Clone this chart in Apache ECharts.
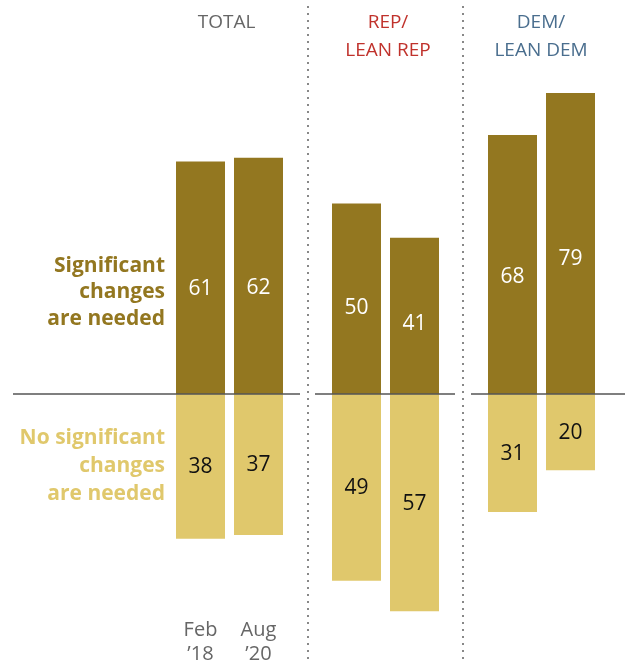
<!DOCTYPE html>
<html><head><meta charset="utf-8">
<script src="https://cdn.jsdelivr.net/npm/echarts@6/dist/echarts.min.js"></script>
<style>html,body{margin:0;padding:0;background:#fff}#c{width:625px;height:664px}</style>
</head><body><div id="c"></div>
<script>
const categories = ["Feb\n\u201918", "Aug\n\u201920"];
const panelTitles = ["TOTAL", "REP/\nLEAN REP", "DEM/\nLEAN DEM"];
const panelColors = ["#666666", "#c0322c", "#4a6e8e"];
const sigTotal = [61, 62];
const sigRep = [50, 41];
const sigDem = [68, 79];
const noTotal = [38, 37];
const noRep = [49, 57];
const noDem = [31, 20];

const sigData = [sigTotal, sigRep, sigDem];
const noData = [noTotal, noRep, noDem];
const DARK = "#937720", LIGHT = "#e0c86c";
const FONT = "'Open Sans', Roboto, sans-serif";

const chart = echarts.init(document.getElementById('c'), null, {renderer: 'canvas'});
const scale = 3.81, zeroY = 394, yMax = 90, yMin = -58;
const gridLefts = [171.5, 327.5, 483.5];
const titleCenters = [226.5, 388, 541];
const grids = [], xAxes = [], yAxes = [], series = [];
gridLefts.forEach((l, i) => {
  grids.push({left: l, width: 116, top: zeroY - yMax * scale, height: (yMax - yMin) * scale,
    containLabel: false, outerBoundsMode: 'none'});
  xAxes.push({type: 'category', gridIndex: i, data: categories,
    axisLine: {show: false}, axisTick: {show: false},
    axisLabel: {show: i === 0, color: '#666', fontSize: 20, lineHeight: 24.5, margin: 3, fontFamily: FONT}});
  yAxes.push({type: 'value', gridIndex: i, min: yMin, max: yMax, show: false, splitLine: {show: false}});
  series.push({type: 'bar', xAxisIndex: i, yAxisIndex: i, stack: 's' + i, barWidth: 49,
    data: sigData[i].map(v => ({value: v, label: {offset: [0, v * scale * 0.05]}})),
    itemStyle: {color: DARK},
    label: {show: true, position: 'inside', color: '#fff', fontSize: 21, fontFamily: FONT}});
  series.push({type: 'bar', xAxisIndex: i, yAxisIndex: i, stack: 's' + i, barWidth: 49,
    data: noData[i].map(v => -v), itemStyle: {color: LIGHT},
    label: {show: true, position: 'inside', offset: [0, 1], color: '#111', fontSize: 21, fontFamily: FONT,
      formatter: p => String(-p.value)}});
});

chart.setOption({
  animation: false,
  grid: grids, xAxis: xAxes, yAxis: yAxes, series: series
});

const y0 = chart.convertToPixel({gridIndex: 0}, [0, 0])[1];
const graphics = [];
[[13, 300], [315, 455], [471, 625]].forEach(([a, b]) => {
  graphics.push({type: 'line', z: 100, shape: {x1: a, y1: y0, x2: b, y2: y0},
    style: {stroke: '#555', lineWidth: 1.5}});
});
[308, 463].forEach(x => {
  graphics.push({type: 'line', z: 100, shape: {x1: x, y1: 6, x2: x, y2: 664},
    style: {stroke: '#888', lineWidth: 2, lineDash: [2, 5]}});
});
panelTitles.forEach((t, i) => {
  graphics.push({type: 'text', z: 100, style: {text: t, x: titleCenters[i], y: 8.5, textAlign: 'center', textVerticalAlign: 'top',
    fill: panelColors[i], font: '19px ' + FONT, lineHeight: 28}});
});
graphics.push({type: 'text', z: 100, style: {text: "Significant\nchanges\nare needed", x: 165, y: 252.5,
  textAlign: 'right', textVerticalAlign: 'top', fill: DARK, font: 'bold 21px ' + FONT, lineHeight: 26.5}});
graphics.push({type: 'text', z: 100, style: {text: "No significant\nchanges\nare needed", x: 165, y: 424,
  textAlign: 'right', textVerticalAlign: 'top', fill: LIGHT, font: 'bold 21px ' + FONT, lineHeight: 28}});
chart.setOption({graphic: graphics});
</script></body></html>
